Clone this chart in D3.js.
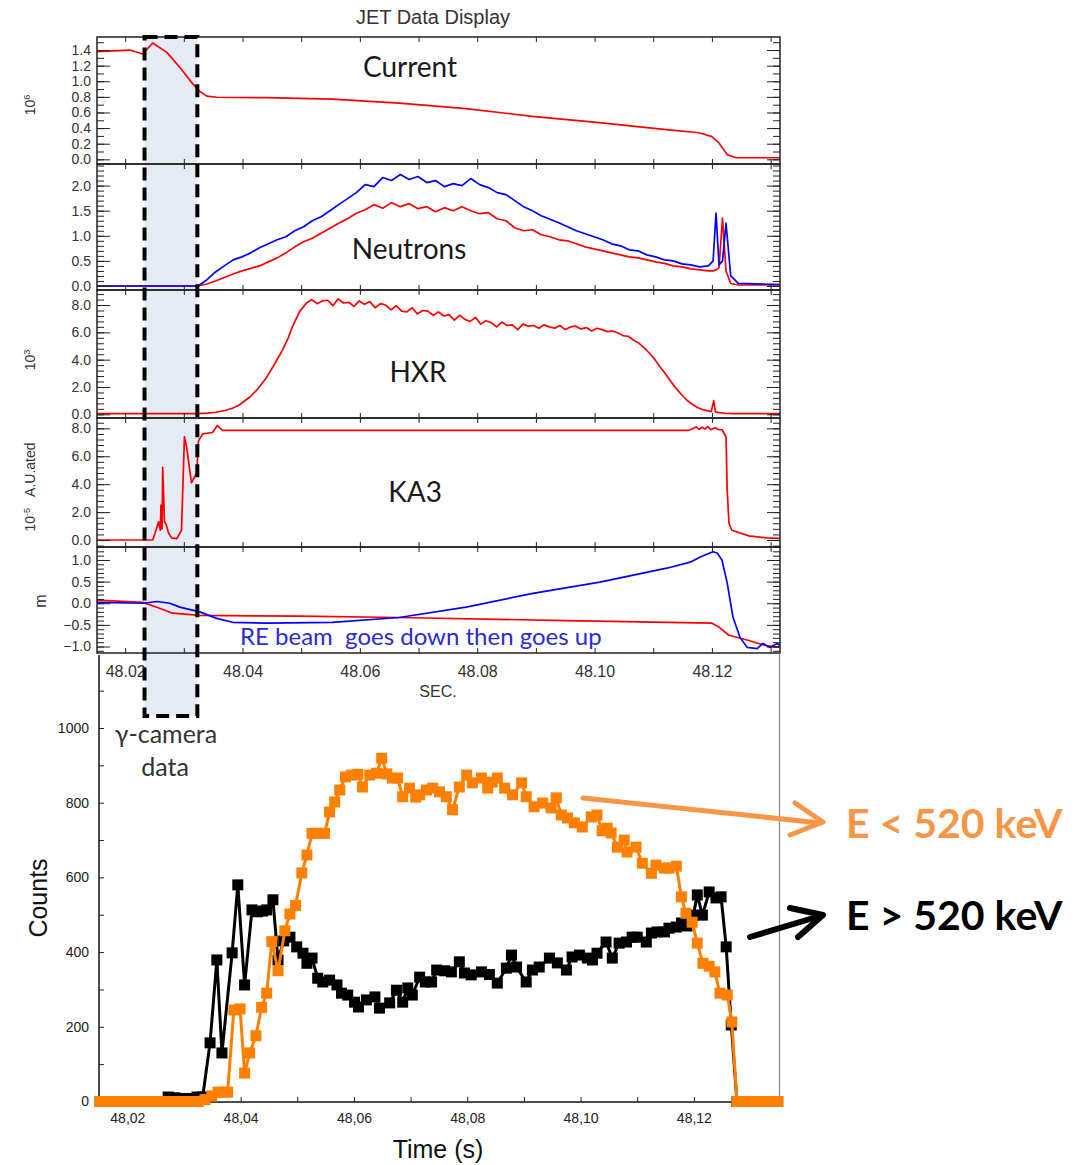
<!DOCTYPE html>
<html>
<head>
<meta charset="utf-8">
<title>JET Data Display</title>
<script src="https://cdnjs.cloudflare.com/ajax/libs/d3/7.8.5/d3.min.js"></script>
<style>
  body { margin: 0; background: #fff; }
  svg { display: block; }
  .ax text { font-family: "Liberation Sans", Arial, sans-serif; fill: #333; }
  .ax .tick line { stroke: #222; }
  .lbl { font-family: Lato, "Open Sans", sans-serif; }
</style>
</head>
<body>
<div id="chart"></div>
<script>
// All times are in ms after 48.000 s
const currentData = [[15.2,1.38],[20.8,1.40],[23.0,1.35],[24.7,1.49],[27.1,1.37],[29.3,1.18],[31.5,0.97],[32.7,0.87],
  [33.9,0.81],[35.6,0.795],[44.1,0.79],[55.3,0.77],[66.7,0.72],[78.1,0.65],[89.4,0.55],[100.8,0.47],[112.2,0.38],
  [117.8,0.34],[120.0,0.29],[121.2,0.21],[122.6,0.06],[124.1,0.02],[131.6,0.02]];

const neutronRed = [[15.2,0],[30.0,0],[32.4,0],[33.9,0.04],[35.4,0.10],[36.9,0.17],[38.4,0.24],[39.9,0.30],[41.4,0.35],
  [42.9,0.40],[44.4,0.48],[45.9,0.56],[47.4,0.66],[48.9,0.78],[50.4,0.88],[51.9,0.95],[53.4,1.05],[54.9,1.15],[56.4,1.25],
  [57.9,1.34],[59.4,1.45],[60.9,1.52],[62.4,1.62],[63.9,1.55],[65.4,1.66],[66.9,1.58],[68.4,1.64],[69.9,1.54],[71.4,1.58],
  [72.9,1.48],[74.4,1.56],[75.9,1.50],[77.4,1.58],[78.9,1.50],[80.4,1.44],[81.9,1.46],[83.4,1.34],[84.9,1.30],[86.4,1.16],
  [87.9,1.10],[89.4,1.12],[90.9,1.02],[92.4,0.98],[93.9,0.92],[95.4,0.90],[96.9,0.84],[98.4,0.78],[99.9,0.74],[101.4,0.70],
  [102.9,0.66],[104.4,0.62],[105.9,0.58],[107.4,0.56],[108.9,0.52],[110.4,0.48],[111.9,0.45],[113.4,0.40],[114.9,0.38],
  [116.4,0.34],[117.9,0.32],[119.4,0.30],[120.2,0.30],[120.7,0.32],[121.2,0.36],[121.8,1.35],[122.4,0.30],[123.2,0.05],
  [124.5,0.02],[131.6,0.02]];

const neutronBlue = [[15.2,0],[30.0,0],[32.4,0],[33.9,0.12],[35.4,0.28],[36.9,0.40],[38.4,0.52],[39.9,0.58],[41.4,0.66],
  [42.9,0.76],[44.4,0.84],[45.9,0.92],[47.4,0.98],[48.9,1.10],[50.4,1.18],[51.9,1.30],[53.4,1.38],[54.9,1.50],[56.4,1.62],
  [57.9,1.74],[59.4,1.86],[60.9,2.02],[62.4,1.98],[63.9,2.16],[65.4,2.10],[66.9,2.22],[68.4,2.12],[69.9,2.18],[71.4,2.06],
  [72.9,2.10],[74.4,1.98],[75.9,2.04],[77.4,2.00],[78.9,2.14],[80.4,2.02],[81.9,1.96],[83.4,1.86],[84.9,1.82],[86.4,1.70],
  [87.9,1.58],[89.4,1.50],[90.9,1.40],[92.4,1.33],[93.9,1.26],[95.4,1.18],[96.9,1.10],[98.4,1.04],[99.9,0.98],[101.4,0.92],
  [102.9,0.84],[104.4,0.80],[105.9,0.72],[107.4,0.70],[108.9,0.62],[110.4,0.58],[111.9,0.52],[113.4,0.50],[114.9,0.44],
  [116.4,0.42],[117.9,0.38],[119.4,0.40],[120.2,0.50],[120.7,1.45],[121.2,0.42],[121.8,0.50],[122.4,1.25],[123.2,0.20],
  [124.5,0.05],[131.6,0.03]];

const hxrData = [[15.2,0.05],[32.4,0.05],[34.0,0.08],[35.5,0.15],[37.0,0.28],[38.3,0.44],[39.5,0.70],[41.2,1.25],[42.5,1.80],
  [44.1,2.70],[45.5,3.70],[46.8,4.70],[47.8,5.60],[48.5,6.40],[49.7,7.50],[50.9,8.15],[51.8,8.40],[52.7,8.10],[53.6,8.30],
  [54.5,8.35],[55.4,7.95],[56.3,8.45],[57.2,8.15],[58.1,8.20],[59.0,7.90],[59.9,8.30],[60.8,8.05],[61.7,8.25],[62.6,7.80],
  [63.5,8.10],[64.4,8.00],[65.3,7.65],[66.2,7.95],[67.1,7.55],[68.0,7.50],[68.9,7.80],[69.8,7.35],[70.7,7.60],[71.6,7.55],
  [72.5,7.25],[73.4,7.50],[74.3,7.20],[75.2,7.30],[76.1,6.90],[77.0,7.25],[77.9,6.95],[78.8,6.80],[79.7,7.10],[80.6,6.60],
  [81.5,6.85],[82.4,6.70],[83.3,6.40],[84.2,6.75],[85.1,6.50],[86.0,6.55],[86.9,6.20],[87.8,6.60],[88.7,6.45],[89.6,6.50],
  [90.5,6.30],[91.4,6.55],[92.3,6.40],[93.2,6.30],[94.1,6.50],[95.0,6.20],[95.9,6.40],[96.8,6.45],[97.7,6.25],[98.6,6.35],
  [99.5,6.10],[100.4,6.30],[101.3,6.20],[102.2,6.05],[103.1,6.10],[104.0,5.95],[104.9,5.75],[105.8,5.70],[106.7,5.40],
  [107.6,5.20],[108.5,4.85],[109.4,4.45],[110.3,4.00],[111.2,3.45],[112.1,2.95],[113.0,2.40],[113.9,1.90],[114.8,1.45],
  [115.7,1.05],[116.6,0.75],[117.5,0.50],[118.4,0.35],[119.3,0.25],[119.9,0.20],[120.3,1.00],[120.6,0.18],[121.2,0.12],
  [122.5,0.06],[124.0,0.05],[131.6,0.05]];

const ka3Data = [[15.2,0],[24.7,0],[25.4,0.9],[25.7,1.3],[26.0,0.7],[26.1,2.5],[26.3,0.8],[26.4,5.2],[26.7,1.3],[27.0,1.1],
  [27.4,0.5],[27.9,0.15],[28.8,0.1],[29.6,0.7],[30.1,7.4],[30.5,6.6],[31.0,5.0],[31.3,4.1],[32.2,4.8],[32.5,7.1],[33.2,7.6],
  [34.9,7.7],[35.7,8.2],[36.6,7.85],[116.1,7.86],[116.6,7.95],[117.3,8.1],[117.8,7.92],[118.3,8.08],[118.8,7.95],[119.3,8.12],
  [119.8,7.9],[120.5,8.05],[121.2,7.9],[121.7,7.9],[122.4,7.4],[122.6,3.6],[122.9,1.2],[123.4,0.7],[126.3,0.3],[129.2,0.15],
  [131.6,0.12]];

const posRed = [[15.2,0.07],[23.0,0.02],[25.5,-0.10],[28.1,-0.23],[32.7,-0.28],[49.7,-0.30],[66.7,-0.33],[95.2,-0.40],
  [120.0,-0.46],[121.2,-0.55],[122.9,-0.74],[126.3,-0.86],[129.2,-0.98],[131.6,-1.02]];

const posBlue = [[15.2,0.02],[23.0,0.0],[25.4,0.04],[27.6,0.0],[29.3,-0.09],[32.7,-0.20],[35.6,-0.35],[38.3,-0.44],
  [44.1,-0.46],[55.3,-0.44],[66.7,-0.33],[78.1,-0.09],[89.5,0.23],[100.9,0.49],[112.3,0.81],[116.3,0.95],[118.0,1.07],
  [120.2,1.19],[120.9,1.16],[121.7,1.0],[122.6,0.47],[123.6,-0.33],[124.8,-0.79],[126.0,-1.02],[127.7,-1.05],[128.7,-0.93],
  [129.9,-1.02],[131.1,-0.93],[131.6,-0.98]];

// gamma-camera counts
const countsLow = [[15.2,0],[16.4,0],[17.7,0],[18.9,0],[20.1,0],[21.4,0],[22.6,0],[23.8,0],[25.1,0],[26.3,0],[27.5,0],
  [28.8,0],[30.0,0],[31.2,0],[32.5,0],[33.7,5],[34.9,15],[36.0,25],[36.9,25],[37.7,25],[38.8,245],[39.9,248],[40.7,76],
  [41.6,130],[42.7,176],[43.7,252],[44.6,290],[45.5,428],[46.6,350],[47.8,457],[48.7,502],[49.7,525],[50.8,612],[51.7,660],
  [52.6,718],[53.6,718],[54.8,718],[55.7,775],[56.6,802],[57.5,834],[58.5,869],[59.6,874],[60.7,876],[61.5,842],[62.8,874],
  [64.0,879],[64.9,919],[65.8,877],[66.8,866],[67.7,866],[68.6,816],[69.8,839],[70.9,815],[71.6,821],[72.8,834],[73.9,839],
  [75.1,829],[76.3,816],[77.4,781],[78.6,842],[79.9,874],[80.9,853],[82.5,866],[83.6,839],[84.4,855],[85.3,866],[86.6,839],
  [88.0,821],[89.6,853],[90.4,816],[91.8,789],[93.3,799],[94.8,786],[95.7,813],[96.6,767],[97.7,759],[98.9,746],[100.3,735],
  [101.9,762],[102.9,767],[103.8,725],[104.7,732],[105.4,719],[106.5,681],[107.7,700],[108.2,668],[109.8,681],[110.9,638],
  [112.5,611],[113.3,633],[114.8,625],[115.6,625],[116.9,630],[117.8,548],[118.6,504],[119.7,480],[120.6,424],[121.6,370],
  [122.7,362],[123.7,347],[124.6,290],[125.9,285],[126.7,213],[127.6,0],[128.9,0],[130.1,0],[131.3,0],[132.6,0],[133.8,0],
  [134.8,0]];

const countsHigh = [[15.2,0],[20.5,0],[25.8,0],[27.2,12],[28.4,10],[29.6,8],[31.1,8],[32.3,12],[33.3,12],[34.6,157],[35.8,379],
  [36.7,130],[38.5,398],[39.5,580],[40.7,312],[42.0,513],[43.0,508],[43.9,510],[44.6,513],[45.7,540],[46.6,379],[47.6,430],
  [48.7,440],[49.9,414],[51.0,397],[51.7,370],[52.6,384],[53.6,330],[54.5,320],[55.7,325],[57.0,312],[57.8,290],[58.9,285],
  [60.1,266],[60.8,253],[62.2,272],[63.7,280],[64.5,250],[66.3,264],[67.5,298],[68.6,266],[69.5,304],[70.3,285],[71.6,333],
  [72.6,320],[73.7,320],[74.6,352],[76.0,350],[77.2,347],[78.6,374],[79.5,344],[80.7,339],[82.5,347],[83.9,340],[85.3,317],
  [86.9,357],[87.8,392],[88.7,360],[90.4,320],[91.5,352],[92.7,360],[94.5,384],[95.9,371],[97.5,352],[98.5,387],[99.8,392],
  [101.2,384],[102.1,379],[102.9,397],[104.5,427],[105.6,384],[106.8,424],[108.1,427],[109.1,440],[110.0,440],[111.6,427],
  [112.5,451],[113.5,454],[114.8,454],[115.6,464],[116.9,467],[117.8,478],[118.8,470],[119.9,499],[120.6,553],[121.5,499],
  [122.7,561],[123.9,545],[124.8,548],[125.7,414],[126.6,205],[127.6,0],[131.5,0],[134.8,0]];

// tick labels
const currentTicks = [0, 0.2, 0.4, 0.6, 0.8, 1.0, 1.2, 1.4];
const neutronTicks = [0, 0.5, 1.0, 1.5, 2.0];
const hxrTicks = [0, 2, 4, 6, 8];
const ka3Ticks = [0, 2, 4, 6, 8];
const posTicks = [-1, -0.5, 0, 0.5, 1];
const timeTicksTop = [48.02, 48.03, 48.04, 48.05, 48.06, 48.07, 48.08, 48.09, 48.10, 48.11, 48.12, 48.13];
const timeLabels = [48.02, 48.04, 48.06, 48.08, 48.10, 48.12];
const countTicks = [0, 100, 200, 300, 400, 500, 600, 700, 800, 900, 1000, 1100];
const countLabels = [0, 200, 400, 600, 800, 1000];
const cameraWindow = [48.0233, 48.0323];

const width = 1076;
const height = 1165;

const svg = d3.select('#chart')
  .append('svg')
  .attr('width', width)
  .attr('height', height);

const toSec = ms => 48 + ms / 1000;

// ---------- JET data display ----------
const xTop = d3.scaleLinear().domain([48.0152, 48.1316]).range([97, 780]);
const [xl, xr] = xTop.range();

const panels = [
  { top: 37,  bottom: 164, domain: [-0.06, 1.567], ticks: currentTicks, minor: 0.1, series: [{ d: currentData, c: '#f00' }] },
  { top: 164, bottom: 290, domain: [-0.08, 2.43],  ticks: neutronTicks, minor: 0.1, series: [{ d: neutronRed, c: '#f00' }, { d: neutronBlue, c: '#00f' }] },
  { top: 290, bottom: 418, domain: [-0.27, 9.1],   ticks: hxrTicks,     minor: 0.4, series: [{ d: hxrData, c: '#f00' }] },
  { top: 418, bottom: 547, domain: [-0.5, 8.74],   ticks: ka3Ticks,     minor: 0.4, series: [{ d: ka3Data, c: '#f00' }] },
  { top: 547, bottom: 653, domain: [-1.15, 1.3],   ticks: posTicks,     minor: 0.1, series: [{ d: posRed, c: '#f00' }, { d: posBlue, c: '#00f' }] }
];

// gamma camera shading sits behind everything
svg.append('rect')
  .attr('x', xTop(cameraWindow[0]))
  .attr('y', 37)
  .attr('width', xTop(cameraWindow[1]) - xTop(cameraWindow[0]))
  .attr('height', 716 - 37)
  .attr('fill', '#e4ebf5');

panels.forEach((p, i) => {
  const y = d3.scaleLinear().domain(p.domain).range([p.bottom, p.top]);
  const g = svg.append('g').attr('class', 'ax');

  svg.append('clipPath').attr('id', 'clip' + i)
    .append('rect')
    .attr('x', xl).attr('y', p.top)
    .attr('width', xr - xl).attr('height', p.bottom - p.top);

  const line = d3.line().x(d => xTop(toSec(d[0]))).y(d => y(d[1]));
  p.series.forEach(s => {
    g.append('path')
      .attr('clip-path', `url(#clip${i})`)
      .attr('d', line(s.d))
      .style('fill', 'none')
      .style('stroke', s.c)
      .style('stroke-width', 1.7)
      .style('stroke-linejoin', 'round');
  });

  const minors = d3.range(Math.ceil(p.domain[0] / p.minor) * p.minor, p.domain[1], p.minor);

  g.append('g').attr('transform', `translate(${xl},0)`)
    .call(d3.axisLeft(y).tickValues(minors).tickSize(-7).tickFormat(''));
  g.append('g').attr('transform', `translate(${xl},0)`)
    .call(d3.axisLeft(y).tickValues(p.ticks).tickSize(-13).tickPadding(6).tickFormat(d3.format('.1f')))
    .selectAll('text').style('font-size', '14px');
  g.append('g').attr('transform', `translate(${xr},0)`)
    .call(d3.axisRight(y).tickValues(minors).tickSize(-7).tickFormat(''));
  g.append('g').attr('transform', `translate(${xr},0)`)
    .call(d3.axisRight(y).tickValues(p.ticks).tickSize(-13).tickFormat(''));

  g.append('g').attr('transform', `translate(0,${p.top})`)
    .call(d3.axisTop(xTop).tickValues(timeTicksTop).tickSize(-5).tickFormat(''));
  g.append('g').attr('transform', `translate(0,${p.bottom})`)
    .call(d3.axisBottom(xTop).tickValues(timeTicksTop).tickSize(-5).tickFormat(''));

  g.selectAll('.domain').remove();
  g.append('rect')
    .attr('x', xl).attr('y', p.top)
    .attr('width', xr - xl).attr('height', p.bottom - p.top)
    .attr('fill', 'none').attr('stroke', '#222').attr('stroke-width', 1.5);
});

const xLab = svg.append('g').attr('class', 'ax')
  .attr('transform', 'translate(0,653)')
  .call(d3.axisBottom(xTop).tickValues(timeLabels).tickSize(0).tickPadding(13).tickFormat(d3.format('.2f')));
xLab.select('.domain').remove();
xLab.selectAll('text').style('font-size', '16px');

svg.append('text')
  .attr('x', 433).attr('y', 24).attr('text-anchor', 'middle')
  .style('font-family', '"Liberation Sans", Arial, sans-serif').style('font-size', '20px').attr('fill', '#333')
  .text('JET Data Display');

svg.append('text')
  .attr('x', 438).attr('y', 697).attr('text-anchor', 'middle')
  .style('font-family', '"Liberation Sans", Arial, sans-serif').style('font-size', '16px').attr('fill', '#333')
  .text('SEC.');

// rotated unit labels
function unitLabel(x, y, parts, size) {
  const t = svg.append('text')
    .attr('transform', `translate(${x},${y}) rotate(-90)`)
    .attr('text-anchor', 'middle')
    .style('font-family', '"Liberation Sans", Arial, sans-serif')
    .style('font-size', size + 'px')
    .style('white-space', 'pre')
    .attr('fill', '#333');
  parts.forEach(p => {
    t.append('tspan')
      .attr('baseline-shift', p.sup ? 'super' : null)
      .style('font-size', p.sup ? (size * 0.65) + 'px' : null)
      .text(p.t);
  });
}
unitLabel(35, 105, [{ t: '10' }, { t: '6', sup: true }], 14);
unitLabel(35, 360, [{ t: '10' }, { t: '3', sup: true }], 14);
unitLabel(35, 487, [{ t: '10' }, { t: '-5', sup: true }, { t: '   A.U.ated' }], 14);
unitLabel(46, 601, [{ t: 'm' }], 16);

// panel names
const panelNames = [
  { t: 'Current', x: 410, y: 77 },
  { t: 'Neutrons', x: 409, y: 259 },
  { t: 'HXR', x: 418, y: 382 },
  { t: 'KA3', x: 415, y: 502 }
];
panelNames.forEach(n => {
  svg.append('text').attr('class', 'lbl')
    .attr('x', n.x).attr('y', n.y).attr('text-anchor', 'middle')
    .style('font-size', '28px').attr('fill', '#1a1a1a')
    .text(n.t);
});

svg.append('text').attr('class', 'lbl')
  .attr('x', 240).attr('y', 645)
  .style('font-size', '24px').style('white-space', 'pre').attr('fill', '#2b2bd6')
  .text('RE beam  goes down then goes up');

// ---------- gamma camera counts ----------
const xBot = d3.scaleLinear().domain([48.015, 48.1352]).range([99, 780]);
const yBot = d3.scaleLinear().domain([0, 1200]).range([1101.5, 653.3]);
const commaFmt = d3.formatLocale({ decimal: ',', thousands: '.', grouping: [3], currency: ['', ''] }).format('.2f');

const bg = svg.append('g').attr('class', 'ax');

bg.append('line').attr('x1', 779.5).attr('x2', 779.5).attr('y1', 653).attr('y2', 1102)
  .attr('stroke', '#888').attr('stroke-width', 1.2);

const yAx = bg.append('g').attr('transform', 'translate(99,0)')
  .call(d3.axisLeft(yBot).tickValues(countTicks).tickSize(-5).tickPadding(10)
    .tickFormat(d => countLabels.includes(d) ? d : ''));
yAx.selectAll('text').style('font-size', '14px').style('fill', '#222');
yAx.select('.domain').remove();

const xAx = bg.append('g').attr('transform', 'translate(0,1102)')
  .call(d3.axisBottom(xBot).tickValues(timeTicksTop).tickSize(-5).tickPadding(11)
    .tickFormat(d => timeLabels.some(v => Math.abs(v - d) < 1e-9) ? commaFmt(d) : ''));
xAx.selectAll('text').style('font-size', '14px').style('fill', '#222');
xAx.select('.domain').remove();

bg.append('line').attr('x1', 99).attr('x2', 99).attr('y1', 655).attr('y2', 1102.5).attr('stroke', '#111').attr('stroke-width', 1.5);
bg.append('line').attr('x1', 98).attr('x2', 780).attr('y1', 1102).attr('y2', 1102).attr('stroke', '#111').attr('stroke-width', 1.5);

const cLine = d3.line().x(d => xBot(toSec(d[0]))).y(d => yBot(d[1]));
[{ d: countsHigh, c: '#000' }, { d: countsLow, c: '#ff8000' }].forEach(s => {
  svg.append('path')
    .attr('d', cLine(s.d))
    .attr('fill', 'none')
    .attr('stroke', s.c)
    .attr('stroke-width', 3);
  svg.append('g').selectAll('rect')
    .data(s.d)
    .enter()
    .append('rect')
    .attr('x', d => xBot(toSec(d[0])) - 5.5)
    .attr('y', d => yBot(d[1]) - 5.5)
    .attr('width', 11)
    .attr('height', 11)
    .attr('fill', s.c);
});

svg.append('text')
  .attr('transform', 'translate(47,898) rotate(-90)')
  .attr('text-anchor', 'middle')
  .style('font-family', '"Liberation Sans", Arial, sans-serif').style('font-size', '25px').attr('fill', '#111')
  .text('Counts');

svg.append('text')
  .attr('x', 438).attr('y', 1158).attr('text-anchor', 'middle')
  .style('font-family', '"Liberation Sans", Arial, sans-serif').style('font-size', '25px').attr('fill', '#111')
  .text('Time (s)');

// dashed frame of the camera window, drawn over the plots
svg.append('rect')
  .attr('x', xTop(cameraWindow[0]))
  .attr('y', 37)
  .attr('width', xTop(cameraWindow[1]) - xTop(cameraWindow[0]))
  .attr('height', 716 - 37)
  .attr('fill', 'none')
  .attr('stroke', '#000')
  .attr('stroke-width', 4)
  .attr('stroke-dasharray', '13,7');

svg.append('text').attr('class', 'lbl')
  .attr('x', 166).attr('y', 743).attr('text-anchor', 'middle')
  .style('font-size', '25px').attr('fill', '#333')
  .text('γ-camera');
svg.append('text').attr('class', 'lbl')
  .attr('x', 165).attr('y', 776).attr('text-anchor', 'middle')
  .style('font-size', '25px').attr('fill', '#333')
  .text('data');

// legend arrows
const arrows = [
  { c: '#f79646', w: 5, shaft: [[583, 798], [820, 823]], head: [[795, 803], [823, 822], [790, 835]] },
  { c: '#000', w: 6, shaft: [[750, 937], [820, 916]], head: [[790, 908], [823, 915], [798, 937]] }
];
arrows.forEach(a => {
  [a.shaft, a.head].forEach(pts => {
    svg.append('path')
      .attr('d', d3.line()(pts))
      .attr('fill', 'none')
      .attr('stroke', a.c)
      .attr('stroke-width', a.w)
      .attr('stroke-linecap', 'round')
      .attr('stroke-linejoin', 'round');
  });
});

svg.append('text').attr('class', 'lbl')
  .attr('x', 846).attr('y', 838)
  .style('font-size', '41px').style('font-weight', 'bold').attr('fill', '#f79646')
  .text('E < 520 keV');
svg.append('text').attr('class', 'lbl')
  .attr('x', 846).attr('y', 930)
  .style('font-size', '41px').style('font-weight', 'bold').attr('fill', '#000')
  .text('E > 520 keV');
</script>
</body>
</html>
